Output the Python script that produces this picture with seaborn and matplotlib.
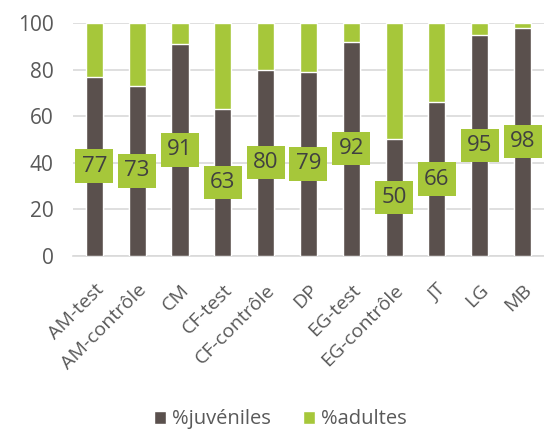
import matplotlib
matplotlib.use("Agg")
import matplotlib.pyplot as plt
import seaborn as sns
import pandas as pd
from matplotlib.patches import Patch

categories = ["AM-test", "AM-contrôle", "CM", "CF-test", "CF-contrôle", "DP",
              "EG-test", "EG-contrôle", "JT", "LG", "MB"]
juveniles = [77, 73, 91, 63, 80, 79, 92, 50, 66, 95, 98]
adultes = [100 - v for v in juveniles]
yticks = [0, 20, 40, 60, 80, 100]

DARK = "#5a504d"
GREEN = "#a6c73a"
TXT = "#595959"

sns.set_theme(style="white")
plt.rcParams["font.family"] = ["Open Sans", "DejaVu Sans"]

df = pd.DataFrame({"cat": categories, "juv": juveniles, "adu": adultes})
df["total"] = df["juv"] + df["adu"]

fig = plt.figure(figsize=(5.44, 4.30), dpi=100)
ax = fig.add_axes([0.134, 0.405, 0.866, 0.5415])

sns.barplot(data=df, x="cat", y="total", color=GREEN, width=0.4, saturation=1, ax=ax, zorder=2)
sns.barplot(data=df, x="cat", y="juv", color=DARK, width=0.4, saturation=1, ax=ax, zorder=3)

for i, v in enumerate(juveniles):
    ax.text(i, v / 2, f"{v}", ha="center", va="center", fontsize=16, color="#404040", zorder=5,
            bbox=dict(boxstyle="square,pad=0.28", facecolor=GREEN, edgecolor="none"))

ax.set_xlim(-0.5, len(categories) - 0.5)
ax.set_ylim(0, 100)
ax.set_yticks(yticks)
ax.set_yticklabels([str(t) for t in yticks], fontsize=15, color=TXT)
ax.tick_params(axis="y", length=0, pad=14)
ax.tick_params(axis="x", length=0, pad=18)
ax.set_xticks(range(len(categories)))
ax.set_xticklabels(categories, rotation=45, ha="right", rotation_mode="anchor", fontsize=14, color=TXT)
ax.yaxis.grid(True, color="#d9d9d9", linewidth=1.2, zorder=0)
ax.set_axisbelow(True)
for s in ["left", "right", "top"]:
    ax.spines[s].set_visible(False)
ax.spines["bottom"].set_color("#d9d9d9")
ax.spines["bottom"].set_linewidth(1.2)
ax.set_xlabel("")
ax.set_ylabel("")

handles = [Patch(facecolor=DARK, label="%juvéniles"), Patch(facecolor=GREEN, label="%adultes")]
fig.legend(handles=handles, loc="center", bbox_to_anchor=(0.515, 0.025), ncol=2, frameon=False,
           fontsize=14.5, handlelength=0.6, handleheight=0.6, handletextpad=0.3, columnspacing=1.6,
           labelcolor=TXT)

fig.savefig("out.png", dpi=100)
